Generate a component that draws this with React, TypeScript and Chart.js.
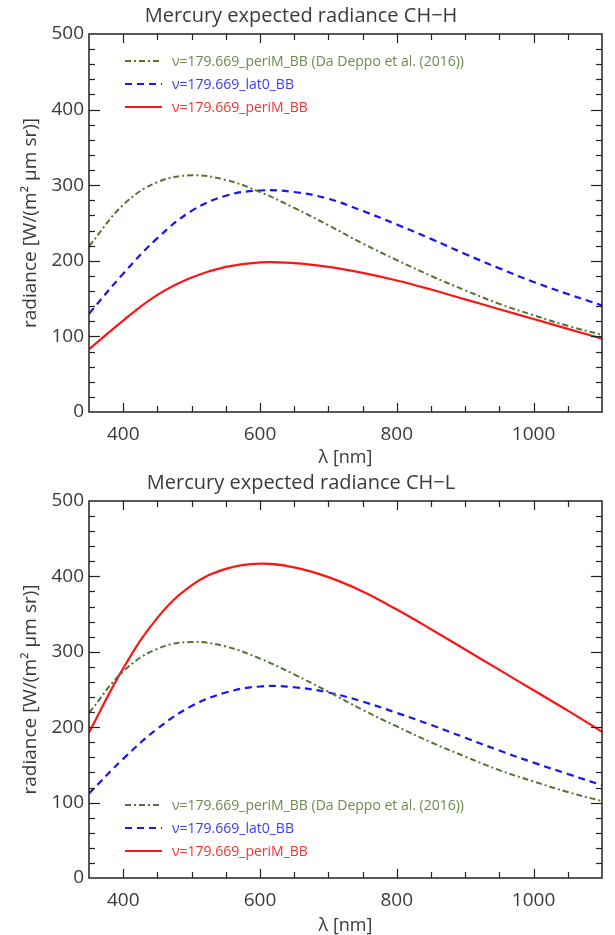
import React, { useEffect, useRef } from "react";
import { Chart, registerables } from "chart.js";

Chart.register(...registerables);

// ---- data ----
const wavelengths = [350, 400, 450, 500, 550, 600, 650, 700, 750, 800, 850, 900, 950, 1000, 1050, 1100];

const daDeppoH = [219, 274, 304, 313, 307, 291, 270, 247, 223, 201, 180, 161, 143, 128, 114, 102];
const lat0H = [130, 183, 230, 266, 286, 293, 291, 282, 266, 248, 229, 209, 190, 172, 156, 141];
const periH = [83, 121, 155, 178, 192, 198, 197, 192, 184, 174, 162, 149, 136, 123, 110, 97];

const daDeppoL = [219, 274, 304, 313, 307, 291, 270, 247, 223, 201, 180, 161, 143, 128, 114, 102];
const lat0L = [112, 158, 198, 228, 246, 254, 253, 246, 234, 219, 203, 186, 169, 153, 138, 123];
const periL = [193, 278, 345, 388, 410, 417, 412, 399, 380, 356, 330, 303, 276, 249, 222, 194];

const xTickValues = [400, 600, 800, 1000];
const yTickStep = 100;

const labelDaDeppo = "\u03bd=179.669_periM_BB (Da Deppo et al. (2016))";
const labelLat0 = "\u03bd=179.669_lat0_BB";
const labelPeri = "\u03bd=179.669_periM_BB";

const titleH = "Mercury expected radiance CH\u2212H";
const titleL = "Mercury expected radiance CH\u2212L";
const xTitle = "\u03bb [nm]";
const yTitle = "radiance [W/(m\u00b2 \u03bcm sr)]";

// ---- styles ----
const FONT = "'Open Sans', 'DejaVu Sans', sans-serif";
const TEXT = "#3a3a3a";
const AXIS = "#222222";
const GREEN = "#55742f";
const GREEN_TXT = "#6d8b4e";
const BLUE = "#1414ff";
const BLUE_TXT = "#3b3bff";
const RED = "#ff1414";
const RED_TXT = "#ff3030";

const framePlugin = {
  id: "frameTicksLegend",
  afterDatasetsDraw(chart: any, _args: any, opts: any) {
    const { ctx, chartArea: a, scales } = chart;
    const x = scales.x;
    const y = scales.y;
    ctx.save();
    ctx.setLineDash([]);
    ctx.strokeStyle = AXIS;
    ctx.lineWidth = 1.5;
    ctx.strokeRect(a.left, a.top, a.right - a.left, a.bottom - a.top);
    ctx.lineWidth = 1.2;
    const seg = (x1: number, y1: number, x2: number, y2: number) => {
      ctx.beginPath();
      ctx.moveTo(x1, y1);
      ctx.lineTo(x2, y2);
      ctx.stroke();
    };
    for (let v = 400; v < 1100; v += 50) {
      const px = Math.round(x.getPixelForValue(v)) + 0.5;
      const len = xTickValues.includes(v) ? 9 : 6;
      seg(px, a.bottom, px, a.bottom - len);
      seg(px, a.top, px, a.top + len);
    }
    for (let v = 20; v < 500; v += 20) {
      const py = Math.round(y.getPixelForValue(v)) + 0.5;
      const len = v % yTickStep === 0 ? 11 : 6;
      seg(a.left, py, a.left + len, py);
      seg(a.right, py, a.right - len, py);
    }
    // legend
    const rows = chart.data.datasets;
    const n = rows.length;
    ctx.font = `14px ${FONT}`;
    ctx.textBaseline = "middle";
    ctx.textAlign = "left";
    rows.forEach((ds: any, i: number) => {
      const cy = opts.at === "top" ? a.top + 27 + i * 23 : a.bottom - 27 - (n - 1 - i) * 23;
      ctx.strokeStyle = ds.borderColor;
      ctx.lineWidth = ds.borderWidth;
      ctx.setLineDash(ds.borderDash || []);
      seg(a.left + 36, cy, a.left + 73, cy);
      ctx.setLineDash([]);
      ctx.fillStyle = ds.legendColor;
      ctx.fillText(ds.label, a.left + 83, cy + 1);
    });
    ctx.restore();
  },
};

type Props = {
  title: string;
  green: number[];
  blue: number[];
  red: number[];
  height: number;
  axisHeight: number;
  legendAt: "top" | "bottom";
};

function RadianceChart({ title, green, blue, red, height, axisHeight, legendAt }: Props) {
  const ref = useRef<HTMLCanvasElement>(null);
  useEffect(() => {
    const pts = (vals: number[]) => wavelengths.map((w, i) => ({ x: w, y: vals[i] }));
    const chart = new Chart(ref.current as HTMLCanvasElement, {
      type: "line",
      data: {
        datasets: [
          {
            label: labelDaDeppo,
            data: pts(green),
            borderColor: GREEN,
            borderWidth: 2,
            borderDash: [6, 3, 2, 3],
            legendColor: GREEN_TXT,
          } as any,
          {
            label: labelLat0,
            data: pts(blue),
            borderColor: BLUE,
            borderWidth: 2.2,
            borderDash: [7, 5],
            legendColor: BLUE_TXT,
          } as any,
          {
            label: labelPeri,
            data: pts(red),
            borderColor: RED,
            borderWidth: 2.2,
            legendColor: RED_TXT,
          } as any,
        ],
      },
      options: {
        responsive: false,
        animation: false,
        devicePixelRatio: 1,
        layout: { padding: { left: 0, right: 13, top: 0, bottom: 0 } },
        elements: {
          point: { radius: 0 },
          line: { tension: 0.4, fill: false },
        },
        plugins: {
          legend: { display: false },
          tooltip: { enabled: false },
          title: {
            display: true,
            text: title,
            color: TEXT,
            font: { family: FONT, size: 20, weight: "normal" as any },
            padding: { top: 4, bottom: 6 },
          },
          frameTicksLegend: { at: legendAt },
        } as any,
        scales: {
          x: {
            type: "linear",
            min: 350,
            max: 1100,
            afterBuildTicks: (s: any) => {
              s.ticks = xTickValues.map((v) => ({ value: v }));
            },
            afterFit: (s: any) => {
              s.height = axisHeight;
            },
            grid: { display: false, drawTicks: false },
            border: { display: false },
            ticks: {
              color: TEXT,
              font: { family: FONT, size: 19 },
              padding: 11,
              maxRotation: 0,
              autoSkip: false,
              callback: (v: any) => String(v),
            },
            title: {
              display: true,
              text: xTitle,
              color: TEXT,
              font: { family: FONT, size: 18 },
              padding: { top: 0, bottom: -2 },
            },
          },
          y: {
            type: "linear",
            min: 0,
            max: 500,
            afterFit: (s: any) => {
              s.width = 89;
            },
            grid: { display: false, drawTicks: false },
            border: { display: false },
            ticks: {
              stepSize: yTickStep,
              color: TEXT,
              font: { family: FONT, size: 19 },
              padding: 5,
              callback: (v: any) => String(v),
            },
            title: {
              display: true,
              text: yTitle,
              color: TEXT,
              font: { family: FONT, size: 19 },
              padding: { top: 19, bottom: 0 },
            },
          },
        },
      },
      plugins: [framePlugin],
    });
    return () => chart.destroy();
  }, []);
  return (
    <canvas
      ref={ref}
      width={615}
      height={height}
      style={{ display: "block", width: 615, height }}
    />
  );
}

export default function App() {
  return (
    <div style={{ position: "absolute", left: 0, top: 0, width: 615, height: 935, background: "#fff" }}>
      <RadianceChart title={titleH} green={daDeppoH} blue={lat0H} red={periH} height={467} axisHeight={55} legendAt="top" />
      <RadianceChart title={titleL} green={daDeppoL} blue={lat0L} red={periL} height={468} axisHeight={57} legendAt="bottom" />
    </div>
  );
}
